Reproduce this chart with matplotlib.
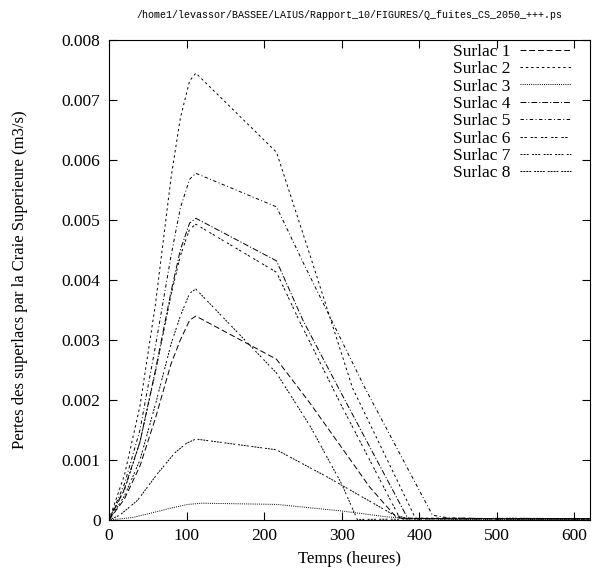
import matplotlib
matplotlib.use("Agg")
import matplotlib.pyplot as plt

# ---- data ----
t_rise = [0, 20, 40, 60, 80, 92, 104, 112]

s1_t = t_rise + [216, 259, 302, 336, 370, 380, 450, 520, 620]
s1_v = [0, 0.00035, 0.0009, 0.0017, 0.0026, 0.0030, 0.00333, 0.0034,
        0.00268, 0.00195, 0.00117, 0.00055, 0.00005, 0.00002, 0.00003, 0.00002, 0.00002]

s2_t = t_rise + [216, 257, 314, 395, 450, 520, 620]
s2_v = [0, 0.00075, 0.0019, 0.0036, 0.0057, 0.0067, 0.00732, 0.00745,
        0.00613, 0.0045, 0.0022, 0.00003, 0.00003, 0.00002, 0.00002]

s3_t = [0, 30, 59, 80, 102, 120, 216, 300, 360, 400, 450, 520, 620]
s3_v = [0, 0.00004, 0.00013, 0.0002, 0.00026, 0.00028, 0.00026,
        0.00015, 0.00005, 0.00002, 0.00001, 0.00001, 0.00001]

s4_t = t_rise + [216, 250, 300, 385, 450, 520, 620]
s4_v = [0, 0.00052, 0.0013, 0.0025, 0.0038, 0.0045, 0.00495, 0.00503,
        0.00432, 0.00333, 0.0021, 0.00003, 0.00002, 0.00002, 0.00002]

s5_t = t_rise + [216, 250, 330, 417, 440, 520, 620]
s5_v = [0, 0.0006, 0.0015, 0.0029, 0.0044, 0.0052, 0.00568, 0.00578,
        0.00522, 0.0043, 0.0022, 0.00008, 0.00003, 0.00002, 0.00002]

s6_t = t_rise + [216, 245, 300, 375, 450, 520, 620]
s6_v = [0, 0.0005, 0.0013, 0.00247, 0.00375, 0.0044, 0.00485, 0.00493,
        0.00413, 0.00333, 0.0019, 0.00003, 0.00002, 0.00002, 0.00002]

s7_t = t_rise + [216, 260, 300, 320, 450, 520, 620]
s7_v = [0, 0.0004, 0.001, 0.00193, 0.00293, 0.0034, 0.00378, 0.00385,
        0.00245, 0.00155, 0.0006, 0.00001, 0.00002, 0.00002, 0.00002]

s8_t = [0, 14, 37, 63, 85, 100, 112, 216, 281, 365, 385, 450, 520, 620]
s8_v = [0, 0.00008, 0.00033, 0.00078, 0.00112, 0.00128, 0.00135,
        0.00117, 0.00072, 0.0001, 0.00002, 0.00002, 0.00003, 0.00002]

labels = ["Surlac 1", "Surlac 2", "Surlac 3", "Surlac 4",
          "Surlac 5", "Surlac 6", "Surlac 7", "Surlac 8"]
x_ticks = [0, 100, 200, 300, 400, 500, 600]
y_ticks = [0, 0.001, 0.002, 0.003, 0.004, 0.005, 0.006, 0.007, 0.008]
y_ticklabels = ["0", "0.001", "0.002", "0.003", "0.004", "0.005", "0.006", "0.007", "0.008"]

series = [(s1_t, s1_v), (s2_t, s2_v), (s3_t, s3_v), (s4_t, s4_v),
          (s5_t, s5_v), (s6_t, s6_v), (s7_t, s7_v), (s8_t, s8_v)]
dashes = [(6, 3), (2.5, 3), (1, 1.2), (6, 2, 1.2, 2), (3.5, 2.5, 1, 2.5),
          (2.5, 1.5, 2.5, 4), (2, 1.2, 2, 1.2, 2, 3.5), (2, 1, 2, 1, 2, 1, 2, 3)]

plt.rcParams['font.family'] = ['Liberation Serif', 'DejaVu Serif']

fig = plt.figure(figsize=(5.92, 5.73), dpi=100)
ax = fig.add_axes([0.184, 0.0925, 0.8126, 0.8375])

for (tt, vv), lab, d in zip(series, labels, dashes):
    ax.plot(tt, vv, color='black', linewidth=0.7, dashes=d, label=lab)

ax.set_xlim(0, 620)
ax.set_ylim(0, 0.008)
ax.set_xticks(x_ticks)
ax.set_xticklabels([str(v) for v in x_ticks])
ax.set_yticks(y_ticks)
ax.set_yticklabels(y_ticklabels)
ax.tick_params(direction='in', top=True, right=True, length=6, width=0.8,
               labelsize=12.5, pad=6, colors='black')
for sp in ax.spines.values():
    sp.set_linewidth(0.8)

ax.set_xlabel("Temps (heures)", fontsize=12, labelpad=5)
ax.set_ylabel("Pertes des superlacs par la Craie Superieure (m3/s)", fontsize=12, labelpad=24)

leg = ax.legend(loc='upper right', bbox_to_anchor=(0.985, 1.018), frameon=False,
                markerfirst=False, fontsize=12.5, handlelength=2.9,
                handletextpad=0.55, labelspacing=0.07, borderaxespad=0.3)

fig.text(0.59, 0.974, "/home1/levassor/BASSEE/LAIUS/Rapport_10/FIGURES/Q_fuites_CS_2050_+++.ps",
         ha='center', va='center', fontsize=7.2, family='Liberation Mono')

fig.savefig("out.png", dpi=100)
